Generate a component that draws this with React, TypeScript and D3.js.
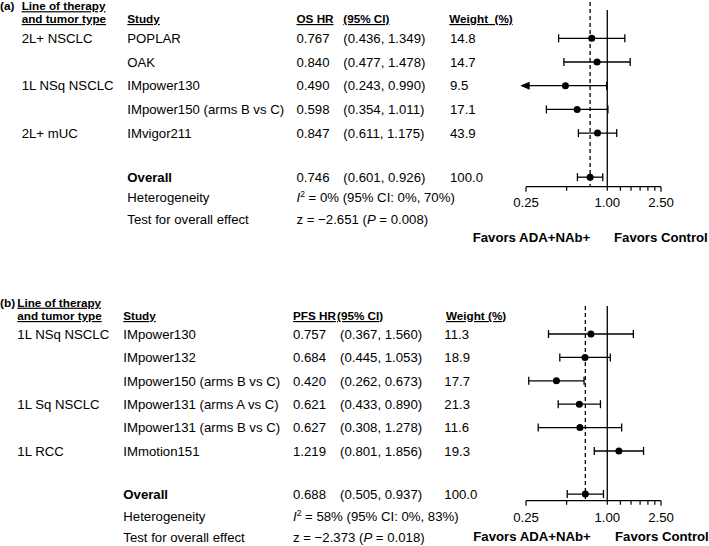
import React from 'react';
import * as d3 from 'd3';

// ---------- Data ----------
// Panel (a): OS
const aGroups = ['2L+ NSCLC', '', '1L NSq NSCLC', '', '2L+ mUC'];
const aStudies = ['POPLAR', 'OAK', 'IMpower130', 'IMpower150 (arms B vs C)', 'IMvigor211'];
const aHR = [0.767, 0.84, 0.49, 0.598, 0.847];
const aLower = [0.436, 0.477, 0.243, 0.354, 0.611];
const aUpper = [1.349, 1.478, 0.99, 1.011, 1.175];
const aWeight = [14.8, 14.7, 9.5, 17.1, 43.9];
const aOverall = [0.746, 0.601, 0.926, 100.0];
const aHetI2 = ['0%', '0%', '70%'];
const aTest = ['−2.651', '0.008'];

// Panel (b): PFS
const bGroups = ['1L NSq NSCLC', '', '', '1L Sq NSCLC', '', '1L RCC'];
const bStudies = ['IMpower130', 'IMpower132', 'IMpower150 (arms B vs C)', 'IMpower131 (arms A vs C)', 'IMpower131 (arms B vs C)', 'IMmotion151'];
const bHR = [0.757, 0.684, 0.42, 0.621, 0.627, 1.219];
const bLower = [0.367, 0.445, 0.262, 0.433, 0.308, 0.801];
const bUpper = [1.56, 1.053, 0.673, 0.89, 1.278, 1.856];
const bWeight = [11.3, 18.9, 17.7, 21.3, 11.6, 19.3];
const bOverall = [0.688, 0.505, 0.937, 100.0];
const bHetI2 = ['58%', '0%', '83%'];
const bTest = ['−2.373', '0.018'];

const tickValues = [0.25, 0.5, 1, 1.25, 1.5, 1.75, 2, 2.25, 2.5];
const tickLabels = [0.25, 1.0, 2.5];

const FONT = '"Liberation Sans", Arial, Helvetica, sans-serif';
const FS = 13.2;
const HFS = 11.7;

type PanelProps = {
  label: string;
  hrHeader: string;
  weightHeader: string;
  groups: string[];
  studies: string[];
  hr: number[];
  lower: number[];
  upper: number[];
  weight: number[];
  overall: number[];
  het: string[];
  test: string[];
  layout: any;
};

const x = d3.scaleLog().domain([0.25, 2.5]).range([526, 661]);

function Panel(p: PanelProps) {
  const L = p.layout;
  const y = d3.scaleLinear().domain([0, 1]).range([L.row0, L.row0 + L.step]);
  const base = (c: number) => c + 4.7;
  const overallY = y(L.overallIdx);
  const hetY = y(L.hetIdx);
  const testY = y(L.testIdx);
  const fmtCI = (l: number, u: number) => `(${l.toFixed(3)}, ${u.toFixed(3)})`;
  const axisY = L.axisY;
  const ext = x.domain();

  const marks = p.hr.map((h, i) => ({ h, l: p.lower[i], u: p.upper[i], cy: y(i) }));
  marks.push({ h: p.overall[0], l: p.overall[1], u: p.overall[2], cy: overallY });

  const ul = { textDecoration: 'underline', whiteSpace: 'pre' } as React.CSSProperties;

  return (
    <g fontFamily={FONT} fill="#000">
      {/* headers */}
      <text x={L.labelX} y={L.h1} fontSize={11.8} fontWeight="bold">{p.label}</text>
      <text x={L.groupX} y={L.h1} fontSize={HFS} fontWeight="bold" style={ul}>Line of therapy</text>
      <text x={L.groupX} y={L.h2} fontSize={HFS} fontWeight="bold" style={ul}>and tumor type</text>
      <text x={L.studyX} y={L.h2} fontSize={HFS} fontWeight="bold" style={ul}>Study</text>
      <text x={L.hrX} y={L.h2} fontSize={HFS} fontWeight="bold" style={ul}>{p.hrHeader}</text>
      <text x={L.ciHX} y={L.h2} fontSize={HFS} fontWeight="bold" style={ul}>(95% CI)</text>
      <text x={L.wHX} y={L.h2} fontSize={HFS} fontWeight="bold" style={ul}>{p.weightHeader}</text>

      {/* rows */}
      {p.studies.map((s, i) => (
        <g key={s + i} fontSize={FS}>
          {p.groups[i] ? <text x={L.groupX} y={base(y(i))}>{p.groups[i]}</text> : null}
          <text x={L.studyX} y={base(y(i))}>{s}</text>
          <text x={L.hrX} y={base(y(i))}>{p.hr[i].toFixed(3)}</text>
          <text x={L.ciX} y={base(y(i))}>{fmtCI(p.lower[i], p.upper[i])}</text>
          <text x={L.wX} y={base(y(i))}>{p.weight[i].toFixed(1)}</text>
        </g>
      ))}

      {/* overall */}
      <g fontSize={FS}>
        <text x={L.studyX} y={base(overallY)} fontWeight="bold">Overall</text>
        <text x={L.hrX} y={base(overallY)}>{p.overall[0].toFixed(3)}</text>
        <text x={L.ciX} y={base(overallY)}>{fmtCI(p.overall[1], p.overall[2])}</text>
        <text x={L.wX} y={base(overallY)}>{p.overall[3].toFixed(1)}</text>
        <text x={L.studyX} y={base(hetY)}>Heterogeneity</text>
        <text x={L.hrX} y={base(hetY)}>
          <tspan fontStyle="italic">I</tspan>
          <tspan fontSize={8.5} dy={-5}>2</tspan>
          <tspan dy={5}>{` = ${p.het[0]} (95% CI: ${p.het[1]}, ${p.het[2]})`}</tspan>
        </text>
        <text x={L.studyX} y={base(testY)}>Test for overall effect</text>
        <text x={L.hrX} y={base(testY)}>
          {`z = ${p.test[0]} (`}
          <tspan fontStyle="italic">P</tspan>
          {` = ${p.test[1]})`}
        </text>
      </g>

      {/* reference lines */}
      <line x1={x(p.overall[0])} x2={x(p.overall[0])} y1={L.dashTop} y2={axisY} stroke="#000" strokeWidth={1.3} strokeDasharray="4,3" />
      <line x1={x(1)} x2={x(1)} y1={L.solidTop} y2={axisY} stroke="#000" strokeWidth={1.3} />

      {/* axis */}
      <line x1={x(ext[0])} x2={x(ext[1])} y1={axisY} y2={axisY} stroke="#000" strokeWidth={1.3} />
      {tickValues.map((t) => (
        <line key={t} x1={x(t)} x2={x(t)} y1={axisY} y2={axisY + (t === 0.25 || t === 2.5 ? 5 : 4)} stroke="#000" strokeWidth={1.2} />
      ))}
      {tickLabels.map((t) => (
        <text key={t} x={x(t)} y={base(L.tickLabelY)} fontSize={FS} textAnchor="middle">{t.toFixed(2)}</text>
      ))}
      <text x={L.fav1X} y={base(L.favY)} fontSize={13.2} fontWeight="bold">Favors ADA+NAb+</text>
      <text x={L.fav2X} y={base(L.favY)} fontSize={13.2} fontWeight="bold">Favors Control</text>

      {/* CI bars & points */}
      {marks.map((m, i) => {
        const clipped = m.l < ext[0];
        const x1 = clipped ? x(ext[0]) : x(m.l);
        const x2 = x(m.u);
        return (
          <g key={i} stroke="#000" strokeWidth={1.3}>
            <line x1={x1} x2={x2} y1={m.cy} y2={m.cy} />
            {clipped ? (
              <path d={`M${x1 - 4},${m.cy}L${x1 + 3},${m.cy - 3}L${x1 + 3},${m.cy + 3}Z`} fill="#000" />
            ) : (
              <line x1={x1} x2={x1} y1={m.cy - 4} y2={m.cy + 4} />
            )}
            <line x1={x2} x2={x2} y1={m.cy - 4} y2={m.cy + 4} />
            <circle cx={x(m.h)} cy={m.cy} r={3.5} fill="#000" stroke="none" />
          </g>
        );
      })}
    </g>
  );
}

const layoutA = {
  row0: 38.3, step: 23.7, overallIdx: 5.86, hetIdx: 6.72, testIdx: 7.63,
  h1: 10.2, h2: 23, labelX: 0, groupX: 21.7, studyX: 127.3, hrX: 296.5, ciHX: 343.3, ciX: 343.3, wHX: 449.3, wX: 450,
  axisY: 186.7, dashTop: 2, solidTop: 10, tickLabelY: 202.7, favY: 237.7, fav1X: 472.7, fav2X: 614,
};

const layoutB = {
  row0: 334, step: 23.4, overallIdx: 6.84, hetIdx: 7.81, testIdx: 8.69,
  h1: 306.7, h2: 320, labelX: 0, groupX: 17.3, studyX: 123.3, hrX: 293, ciHX: 337, ciX: 340, wHX: 446, wX: 444.3,
  axisY: 500.7, dashTop: 306, solidTop: 306, tickLabelY: 517.3, favY: 536, fav1X: 473.3, fav2X: 615,
};

export default function App() {
  return (
    <svg width={709} height={546} style={{ position: 'absolute', left: 0, top: 0, background: '#fff' }}>
      <rect width={709} height={546} fill="#fff" />
      <Panel label="(a)" hrHeader="OS HR" weightHeader="Weight  (%)" groups={aGroups} studies={aStudies}
        hr={aHR} lower={aLower} upper={aUpper} weight={aWeight} overall={aOverall} het={aHetI2} test={aTest} layout={layoutA} />
      <Panel label="(b)" hrHeader="PFS HR" weightHeader="Weight (%)" groups={bGroups} studies={bStudies}
        hr={bHR} lower={bLower} upper={bUpper} weight={bWeight} overall={bOverall} het={bHetI2} test={bTest} layout={layoutB} />
    </svg>
  );
}
